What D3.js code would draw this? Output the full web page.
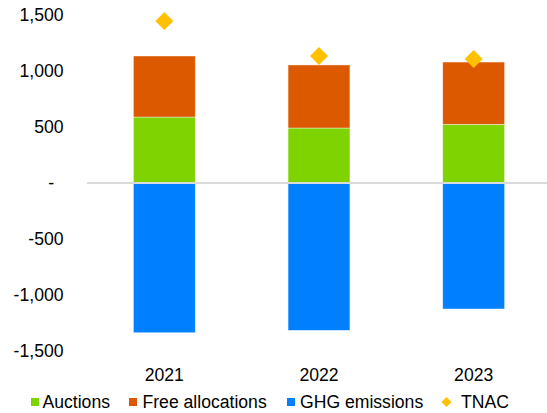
<!DOCTYPE html>
<html><head><meta charset="utf-8">
<script src="https://cdn.jsdelivr.net/npm/d3@7"></script>
<style>body{margin:0;background:#fff}svg{display:block;font-family:"Liberation Sans",Arial,sans-serif}</style>
</head><body>
<svg id="c" width="547" height="413"></svg>
<script>
const years = ["2021","2022","2023"];
const auctions = [589, 491, 524];
const freeAllocations = [545, 563, 556];
const ghgEmissions = [-1337, -1316, -1125];
const tnac = [1446, 1134, 1107];
const yTicks = [-1500,-1000,-500,0,500,1000,1500];
const colors = {"Auctions":"#7ed300","Free allocations":"#dc5900","GHG emissions":"#007fff","TNAC":"#ffc000"};
const FS = 17.6;

const svg = d3.select("#c");
const x = d3.scaleBand().domain(years).range([87,551]).paddingInner(0.6).paddingOuter(0.3);
const y = d3.scaleLinear().domain([-1500,1500]).range([351,15]);
const fmt = v => v===0 ? "-" : d3.format(",")(v).replace("\u2212","-");

svg.append("g").selectAll("text").data(yTicks).join("text")
  .attr("x",d=>d===0 ? 54 : 63.5).attr("y",d=>y(d)).attr("dy","0.35em")
  .attr("text-anchor","end").attr("font-size",FS).attr("fill","#000")
  .text(fmt);

const rows = years.map((yr,i)=>({yr, a:auctions[i], f:freeAllocations[i], g:ghgEmissions[i]}));
const g = svg.append("g");
rows.forEach(r=>{
  const segs = [
    {k:"GHG emissions", y0:0, y1:r.g},
    {k:"Auctions", y0:0, y1:r.a},
    {k:"Free allocations", y0:r.a, y1:r.a+r.f}
  ];
  segs.forEach(s=>{
    g.append("rect")
      .attr("x",x(r.yr)).attr("width",x.bandwidth())
      .attr("y",y(Math.max(s.y0,s.y1))).attr("height",Math.abs(y(s.y0)-y(s.y1)))
      .attr("fill",colors[s.k]).attr("stroke","#fff").attr("stroke-opacity",0.6).attr("stroke-width",0.7);
  });
});

svg.append("line").attr("x1",87).attr("x2",547).attr("y1",y(0)).attr("y2",y(0))
  .attr("stroke","#d9d9d9").attr("stroke-width",2);

svg.append("g").selectAll("path").data(years.map((yr,i)=>({yr,v:tnac[i]}))).join("path")
  .attr("transform",d=>`translate(${x(d.yr)+x.bandwidth()/2},${y(d.v)})`)
  .attr("d","M0,-9L9,0L0,9L-9,0Z").attr("fill",colors["TNAC"]);

svg.append("g").selectAll("text").data(years).join("text")
  .attr("x",d=>x(d)+x.bandwidth()/2).attr("y",381).attr("text-anchor","middle")
  .attr("font-size",FS).attr("fill","#000").text(d=>d);

const leg = [
  {k:"Auctions", sx:31, tx:42.5},
  {k:"Free allocations", sx:129, tx:142.5},
  {k:"GHG emissions", sx:287, tx:300},
  {k:"TNAC", sx:442, tx:461}
];
const ly = 402;
leg.forEach(l=>{
  if(l.k==="TNAC"){
    svg.append("path").attr("transform",`translate(${l.sx+4.5},${ly})`)
      .attr("d","M0,-5L5,0L0,5L-5,0Z").attr("fill",colors[l.k]);
  } else {
    svg.append("rect").attr("x",l.sx).attr("y",ly-4).attr("width",8).attr("height",8).attr("fill",colors[l.k]);
  }
  svg.append("text").attr("x",l.tx).attr("y",ly).attr("dy","0.35em")
    .attr("font-size",FS).attr("fill","#000").text(l.k);
});
</script>
</body></html>
